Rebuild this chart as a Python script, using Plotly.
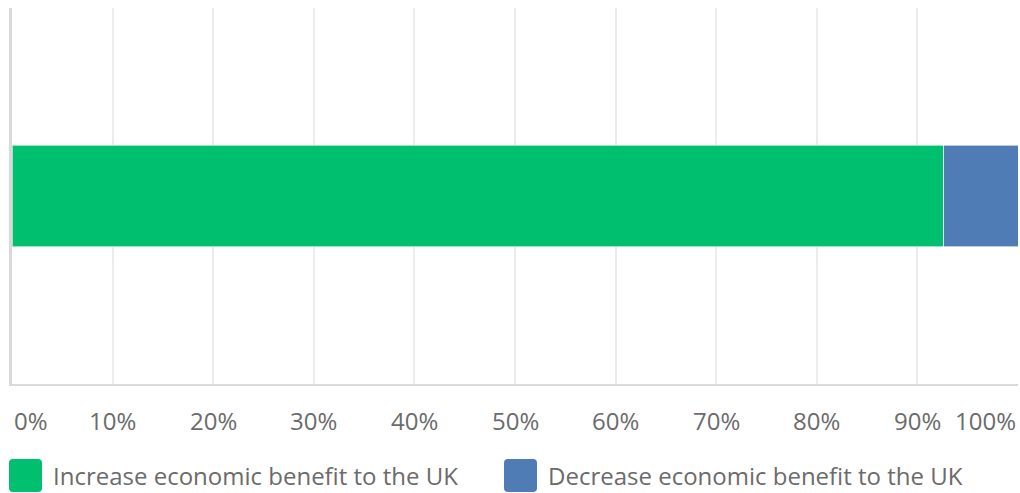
import plotly.graph_objects as go

# Data
categories = [""]
series_names = ["Increase economic benefit to the UK", "Decrease economic benefit to the UK"]
series_values = [[92.6], [7.4]]
series_colors = ["#00bf6f", "#507cb6"]
tick_values = [0, 10, 20, 30, 40, 50, 60, 70, 80, 90, 100]
tick_labels = ["0%", "10%", "20%", "30%", "40%", "50%", "60%", "70%", "80%", "90%", "100%"]

W, H = 1020, 493
M_L, M_R, M_T, M_B = 12, 2, 8, 109
PW, PH = W - M_L - M_R, H - M_T - M_B

def px_x(x):
    return (x - M_L) / PW

def px_y(y):
    return (H - M_B - y) / PH

FONT = "Open Sans"
TEXT_COLOR = "#6b6b6b"
FONT_SIZE = 24

fig = go.Figure()
for name, vals, col in zip(series_names, series_values, series_colors):
    fig.add_trace(go.Bar(
        x=vals, y=categories, orientation="h", name=name,
        marker=dict(color=col, line=dict(color="rgba(255,255,255,0.6)", width=1)),
        hoverinfo="skip",
    ))

# Axis tick labels, kept inside the canvas at the ends
annotations = []
for v, lab in zip(tick_values, tick_labels):
    anchor = "left" if v == tick_values[0] else ("right" if v == tick_values[-1] else "center")
    annotations.append(dict(
        x=v, y=0, xref="x", yref="paper", text=lab, showarrow=False,
        xanchor=anchor, yanchor="middle", yshift=-36,
        font=dict(family=FONT, size=FONT_SIZE, color=TEXT_COLOR),
    ))

# Custom legend: rounded swatches with labels
legend_items = [(9, 51), (504, 546)]
shapes = []
sw = 33
ly = 459
for (sx, tx), name, col in zip(legend_items, series_names, series_colors):
    x0, x1 = px_x(sx), px_x(sx + sw)
    y0, y1 = px_y(ly + sw), px_y(ly)
    r_x = 4 / PW
    r_y = 4 / PH
    path = (f"M {x0 + r_x},{y0} L {x1 - r_x},{y0} Q {x1},{y0} {x1},{y0 + r_y} "
            f"L {x1},{y1 - r_y} Q {x1},{y1} {x1 - r_x},{y1} "
            f"L {x0 + r_x},{y1} Q {x0},{y1} {x0},{y1 - r_y} "
            f"L {x0},{y0 + r_y} Q {x0},{y0} {x0 + r_x},{y0} Z")
    shapes.append(dict(type="path", path=path, xref="paper", yref="paper",
                       fillcolor=col, line=dict(width=0)))
    annotations.append(dict(
        x=px_x(tx), y=px_y(ly + sw / 2), xref="paper", yref="paper",
        text=name, showarrow=False, xanchor="left", yanchor="middle",
        font=dict(family=FONT, size=FONT_SIZE, color=TEXT_COLOR),
    ))

fig.update_layout(
    width=W, height=H, autosize=False,
    margin=dict(l=M_L, r=M_R, t=M_T, b=M_B),
    barmode="stack", bargap=0.729,
    showlegend=False,
    plot_bgcolor="white", paper_bgcolor="white",
    xaxis=dict(range=[0, 100], tickvals=tick_values, showticklabels=False,
               showgrid=True, gridcolor="#ececec", gridwidth=2,
               showline=True, linecolor="#d9d9d9", linewidth=2,
               zeroline=False, fixedrange=True),
    yaxis=dict(showticklabels=False, showgrid=False, zeroline=False,
               showline=True, linecolor="#d9d9d9", linewidth=3,
               fixedrange=True),
    annotations=annotations,
    shapes=shapes,
)

fig.write_html("out.html")
